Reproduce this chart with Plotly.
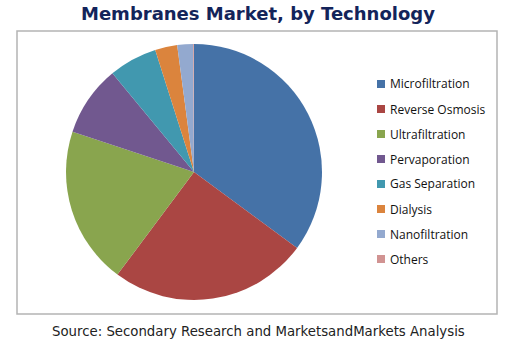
import plotly.graph_objects as go

labels = ["Microfiltration", "Reverse Osmosis", "Ultrafiltration", "Pervaporation",
          "Gas Separation", "Dialysis", "Nanofiltration", "Others"]
values = [35.1, 25.1, 19.9, 8.9, 6.1, 2.8, 2.0, 0.1]
colors = ["#4572A7", "#AA4643", "#89A54E", "#71588F", "#4198AF", "#DB843D", "#93A9CF", "#D19392"]

W, H = 516, 349

fig = go.Figure(go.Pie(
    labels=labels, values=values, sort=False, direction="clockwise", rotation=0,
    marker=dict(colors=colors, line=dict(width=0)),
    textinfo="none", hoverinfo="label+percent", showlegend=False,
    domain=dict(x=[66 / W, 322 / W], y=[1 - 300 / H, 1 - 44 / H]),
))

shapes = [dict(type="rect", xref="paper", yref="paper",
               x0=17 / W, x1=497 / W, y0=1 - 314 / H, y1=1 - 31 / H,
               line=dict(color="#b4b4b4", width=1.5), fillcolor="rgba(0,0,0,0)")]
annotations = []
for i, (lab, col) in enumerate(zip(labels, colors)):
    yc = 84 + 25 * i
    shapes.append(dict(type="rect", xref="paper", yref="paper",
                       x0=377 / W, x1=385 / W, y0=1 - (yc + 4) / H, y1=1 - (yc - 4) / H,
                       line=dict(width=0), fillcolor=col))
    annotations.append(dict(text=lab, xref="paper", yref="paper", x=388 / W, y=1 - yc / H,
                            xanchor="left", yanchor="middle", showarrow=False,
                            font=dict(family="Open Sans", size=12, color="#111111")))

annotations.append(dict(text="<b>Membranes Market, by Technology</b>", xref="paper", yref="paper",
                        x=258 / W, y=1 - 13 / H, xanchor="center", yanchor="middle", showarrow=False,
                        font=dict(family="DejaVu Sans", size=18, color="#13245a")))
annotations.append(dict(text="Source: Secondary Research and MarketsandMarkets Analysis",
                        xref="paper", yref="paper", x=258 / W, y=1 - 331 / H,
                        xanchor="center", yanchor="middle", showarrow=False,
                        font=dict(family="DejaVu Sans", size=13.3, color="#222222")))

fig.update_layout(width=W, height=H, margin=dict(l=0, r=0, t=0, b=0),
                  paper_bgcolor="white", plot_bgcolor="white",
                  shapes=shapes, annotations=annotations)

fig.write_html("out.html")
